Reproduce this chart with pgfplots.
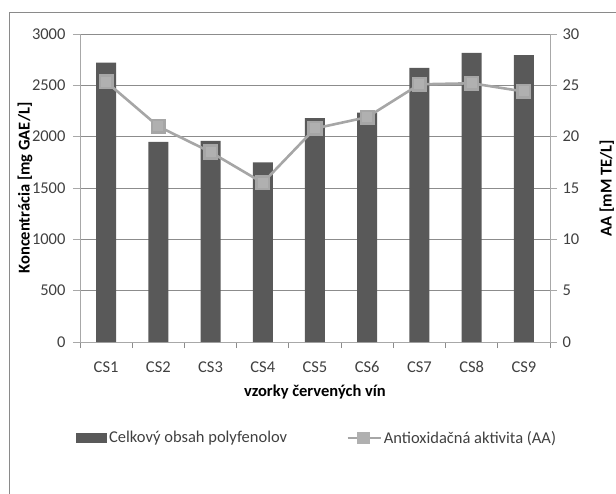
\documentclass[border=0pt]{standalone}
\usepackage{fontspec}
\setmainfont{Carlito}
\usepackage{pgfplots}
\pgfplotsset{compat=1.18}
\usepackage{pgfplotstable}

\definecolor{barfill}{HTML}{595959}
\definecolor{aaline}{HTML}{A6A6A6}
\definecolor{aamark}{HTML}{B0B0B0}
\definecolor{gridc}{HTML}{8C8C8C}
\definecolor{axisc}{HTML}{A8A8A8}
\definecolor{framec}{HTML}{8A8A8A}
\definecolor{textc}{HTML}{404040}

% total polyphenols [mg GAE/L] and antioxidant activity [mM TE/L]
\pgfplotstableread{
idx tp   aa
0   2720 25.35
1   1950 21.0
2   1960 18.5
3   1750 15.5
4   2180 20.8
5   2235 21.9
6   2670 25.1
7   2815 25.2
8   2795 24.4
}\wine

\newcommand{\tickfont}{\fontsize{16.5}{16.5}\selectfont}
\newcommand{\labfont}{\bfseries\fontsize{16.5}{16.5}\selectfont}

\pgfplotsset{
  common/.style={
    at={(0pt,0pt)}, anchor=south west,
    scale only axis, width=470pt, height=308pt,
    xmin=-0.5, xmax=8.5,
    axis line style={-, axisc, line width=0.8pt},
    tick align=outside,
    major tick length=7pt,
    minor tick length=6pt,
    tick style={axisc, line width=0.8pt},
    ticklabel style={font=\tickfont, text=textc},
    /pgf/number format/assume math mode=true,
    /pgf/number format/1000 sep={},
    clip=false,
  },
}

\begin{document}
\begin{tikzpicture}
% bars: total polyphenol content
\begin{axis}[common,
  ybar, bar width=20pt,
  axis x line*=bottom, axis y line*=left,
  ymin=0, ymax=3000, ytick={0,500,...,3000},
  ymajorgrids, grid style={gridc, line width=0.8pt},
  xtick={0,...,8},
  xticklabels={CS1,CS2,CS3,CS4,CS5,CS6,CS7,CS8,CS9},
  xticklabel style={yshift=-9pt},
  yticklabel style={xshift=-4pt},
  minor xtick={-0.5,0.5,...,8.5},
  major x tick style={draw=none},
  minor x tick style={draw=gridc},
  xlabel={vzorky červených vín},
  xlabel style={at={(rel axis cs:0.5,-0.162)}, anchor=center, font=\labfont, text=black},
  ylabel={Koncentrácia [mg GAE/L]},
  ylabel style={at={(rel axis cs:-0.117,0.5)}, anchor=center, font=\labfont, text=black},
  legend style={at={(rel axis cs:-0.0085,-0.3117)}, anchor=west,
    draw=none, fill=none, inner sep=0pt, font=\tickfont, text=textc},
]
\addplot[fill=barfill, draw=none,
  legend image code/.code={\fill[barfill] (0pt,-5pt) rectangle (31pt,5pt);}]
  table[x=idx, y=tp]{\wine};
\addlegendentry{Celkový obsah polyfenolov}
\end{axis}

% line: antioxidant activity on the right axis
\begin{axis}[common,
  axis y line*=right, axis x line=none,
  ymin=0, ymax=30, ytick={0,5,...,30},
  yticklabel style={anchor=west, xshift=2pt},
  ylabel={AA [mM TE/L]},
  ylabel style={at={(rel axis cs:1.121,0.5)}, anchor=center, font=\labfont, text=black},
  legend style={at={(rel axis cs:0.566,-0.3117)}, anchor=west,
    draw=none, fill=none, inner sep=0pt, font=\tickfont, text=textc},
]
\addplot[aaline, line width=2.6pt, mark=square*, mark size=6.3pt,
  mark options={fill=aamark, draw=none},
  legend image code/.code={
    \draw[aaline, line width=2.6pt] (0pt,0pt) -- (33pt,0pt);
    \fill[aamark] (11pt,-5pt) rectangle (21pt,5pt);}]
  table[x=idx, y=aa]{\wine};
\addlegendentry{Antioxidačná aktivita (AA)}
\end{axis}

% chart frame
\draw[framec, line width=0.8pt] (-71pt,-200pt) -- (-71pt,330pt) -- (600pt,330pt);
\pgfresetboundingbox
\useasboundingbox (-80pt,-151pt) rectangle (536pt,342pt);
\end{tikzpicture}
\end{document}
